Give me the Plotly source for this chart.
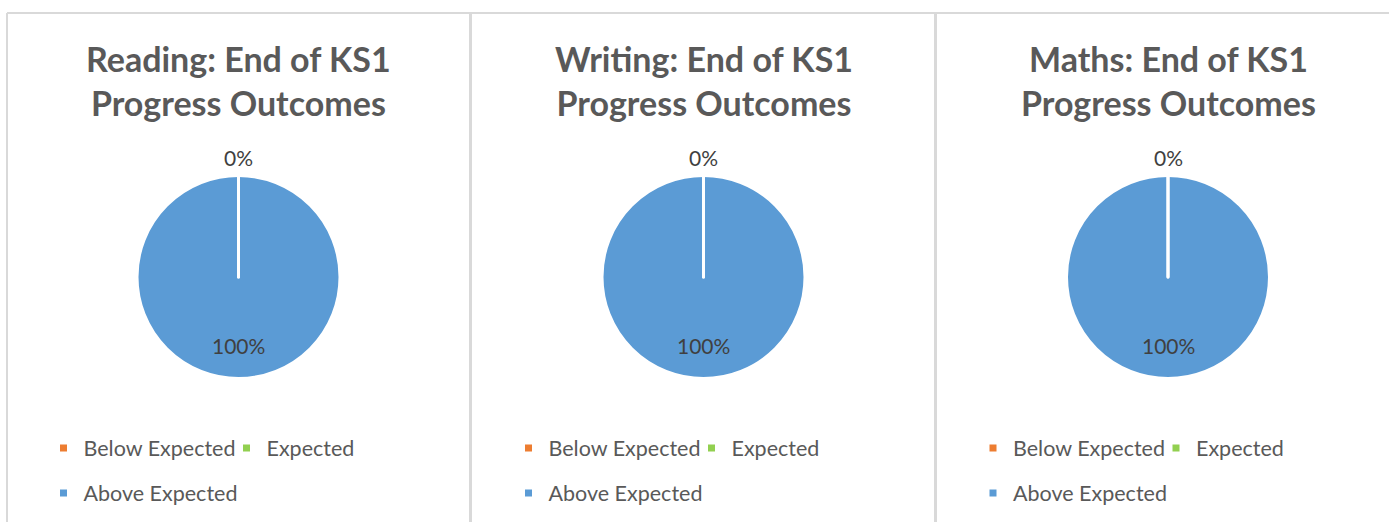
import math
import plotly.graph_objects as go

subjects = ["Reading", "Writing", "Maths"]
outcomes = ["Below Expected", "Expected", "Above Expected"]
below_expected = [0, 0, 0]
expected = [0, 0, 0]
above_expected = [100, 100, 100]
outcome_colors = ["#ED7D31", "#92D050", "#5B9BD5"]

W, H = 1389, 522
panel_centers = [238.5, 703.5, 1168]
pie_cy = 277
pie_r = 101.5
font = "Lato"

fig = go.Figure()
annotations = []

for k, subj in enumerate(subjects):
    cx = panel_centers[k]
    vals = {"Below Expected": below_expected[k], "Expected": expected[k],
            "Above Expected": above_expected[k]}
    # big slice first so the zero slices (white edge) end up drawn on top
    order = ["Above Expected", "Below Expected", "Expected"]
    fig.add_trace(go.Pie(
        labels=order,
        values=[vals[o] for o in order],
        marker=dict(colors=[outcome_colors[outcomes.index(o)] for o in order],
                    line=dict(color="white", width=3)),
        sort=False,
        direction="clockwise",
        rotation=0,
        textinfo="none",
        showlegend=False,
        hoverinfo="label+percent",
        domain=dict(x=[(cx - pie_r) / W, (cx + pie_r) / W],
                    y=[(H - pie_cy - pie_r) / H, (H - pie_cy + pie_r) / H]),
    ))

    # data labels, Excel style: small slices outside, others inside
    total = sum(vals.values())
    cum = 0
    seen = set()
    for o in outcomes:
        frac = vals[o] / total
        mid = (cum + frac / 2) * 2 * math.pi
        cum += frac
        d = 100 + 20 if frac < 0.05 else 68
        txt = f"{round(frac * 100)}%"
        key = (txt, round(mid, 3), d)
        if key in seen:
            continue
        seen.add(key)
        annotations.append(dict(
            text=txt, showarrow=False, xref="paper", yref="paper",
            x=(cx + d * math.sin(mid)) / W,
            y=(H - (pie_cy - d * math.cos(mid))) / H,
            xanchor="center", yanchor="middle",
            font=dict(family=font, size=21, color="#404040"),
        ))

    # legend entries: first row (Below, Expected), second row (Above)
    row1 = "legend" if k == 0 else f"legend{2 * k + 1}"
    row2 = f"legend{2 * k + 2}"
    for j, o in enumerate(outcomes):
        fig.add_trace(go.Scatter(
            x=[None], y=[None], mode="markers", name=o,
            marker=dict(symbol="square", size=7, color=outcome_colors[j]),
            legend=row1 if j < 2 else row2,
            showlegend=True,
        ))

    annotations.append(dict(
        text=f"<b>{subj}: End of KS1<br>Progress Outcomes</b>",
        x=cx / W, y=(H - 81) / H, xref="paper", yref="paper",
        xanchor="center", yanchor="middle", showarrow=False,
        font=dict(family=font, size=34, color="#595959"),
    ))

legend_style = dict(
    orientation="h", xref="paper", yref="paper", xanchor="left",
    yanchor="middle", bgcolor="rgba(0,0,0,0)",
    font=dict(family=font, size=21.5, color="#595959"),
)
legends = {}
for k, cx in enumerate(panel_centers):
    lx = (cx - 239 + 44) / W
    n1 = "legend" if k == 0 else f"legend{2 * k + 1}"
    n2 = f"legend{2 * k + 2}"
    legends[n1] = dict(legend_style, x=lx, y=(H - 448) / H,
                       entrywidth=138, entrywidthmode="pixels")
    legends[n2] = dict(legend_style, x=lx, y=(H - 493) / H)

# panel borders
border = "#D9D9D9"
shapes = [
    dict(type="line", x0=7 / W, x1=1, y0=(H - 13) / H, y1=(H - 13) / H),
    dict(type="line", x0=7 / W, x1=7 / W, y0=0, y1=(H - 13) / H),
    dict(type="line", x0=470.5 / W, x1=470.5 / W, y0=0, y1=(H - 13) / H),
    dict(type="line", x0=935.5 / W, x1=935.5 / W, y0=0, y1=(H - 13) / H),
]
for i, s in enumerate(shapes):
    s.update(xref="paper", yref="paper",
             line=dict(color=border, width=2 if i < 2 else 3))

fig.update_layout(
    width=W, height=H,
    margin=dict(l=0, r=0, t=0, b=0, autoexpand=False),
    paper_bgcolor="white", plot_bgcolor="white",
    xaxis=dict(visible=False), yaxis=dict(visible=False),
    shapes=shapes,
    annotations=annotations,
    **legends,
)

fig.write_html("out.html", config={"displayModeBar": False},
               post_script="document.body.style.margin = '0';")
